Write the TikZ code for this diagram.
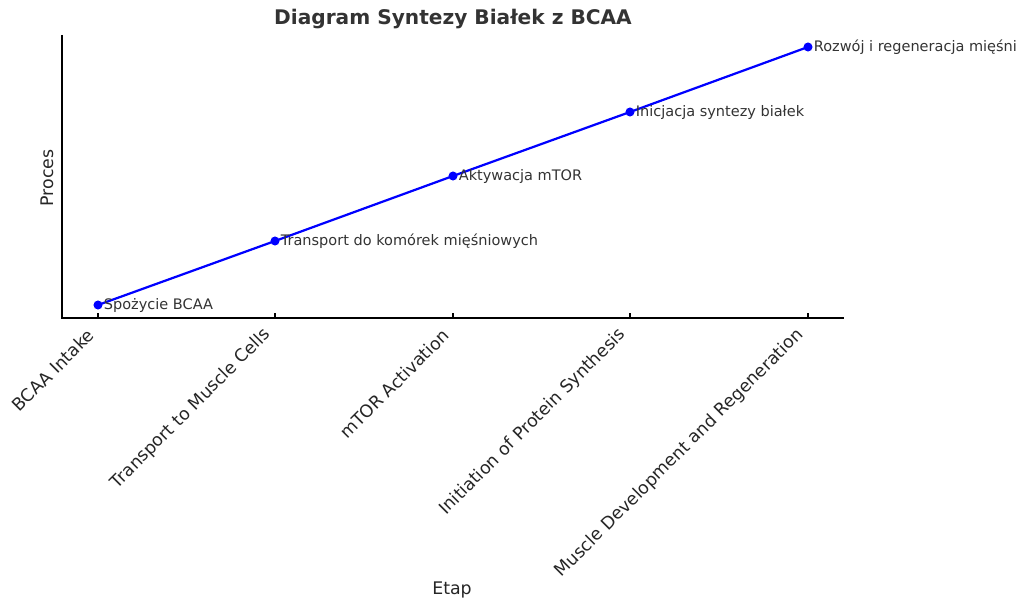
\documentclass[tikz,border=0pt]{standalone}
\usepackage{fontspec}
\setmainfont{DejaVu Sans}
\usepackage{xcolor}
\usetikzlibrary{positioning}

\definecolor{txtgray}{HTML}{333333}
\definecolor{lineblue}{HTML}{0000FF}

\begin{document}
\begin{tikzpicture}[
    x=0.72pt, y=-0.72pt,
    spine/.style={line width=0.8pt, black},
    tickmark/.style={line width=0.8pt, black},
    ticklabel/.style={rotate=45, anchor=east, inner sep=0pt, font=\fontsize{12.5}{14}\selectfont, text=black!85},
    dot/.style={circle, fill=lineblue, inner sep=0pt, minimum size=6.5pt},
    note/.style={anchor=west, inner sep=0pt, font=\fontsize{10.45}{12}\selectfont, text=txtgray},
    curve/.style={line width=1.6pt, lineblue}
  ]
  \useasboundingbox (0,0) rectangle (1024,609);

  % Title
  \node[font=\bfseries\fontsize{14.5}{16}\selectfont, text=txtgray] (title) at (453,19) {Diagram Syntezy Białek z BCAA};

  % Axes
  \coordinate (origin) at (62,318);
  \coordinate (ytop) at (62,35);
  \coordinate (xend) at (844,318);
  \draw[spine] (ytop) -- (origin) -- (xend);

  % Data points
  \coordinate (intake) at (98,305);
  \coordinate (transport) at (275,241);
  \coordinate (mtor) at (453,176);
  \coordinate (initiation) at (630,112);
  \coordinate (growth) at (808,47);

  % Ticks
  \foreach \tx in {98,275,453,630,808}
    \draw[tickmark] (\tx,318) -- (\tx,313);

  % Tick labels
  \node[ticklabel] (lab1) at (91,332) {BCAA Intake};
  \node[ticklabel] (lab2) at (268,332) {Transport to Muscle Cells};
  \node[ticklabel] (lab3) at (446,332) {mTOR Activation};
  \node[ticklabel] (lab4) at (623,332) {Initiation of Protein Synthesis};
  \node[ticklabel] (lab5) at (801,332) {Muscle Development and Regeneration};

  % Axis labels
  \node[font=\fontsize{12.5}{14}\selectfont, text=black!85] (xlabel) at (452,590) {Etap};
  \node[font=\fontsize{12.5}{14}\selectfont, text=black!85, rotate=90] (ylabel) at (47,178) {Proces};

  % Line and markers
  \draw[curve] (intake) -- (transport) -- (mtor) -- (initiation) -- (growth);
  \foreach \p in {intake,transport,mtor,initiation,growth}
    \node[dot] at (\p) {};

  % Annotations
  \node[note] (n1) at ([xshift=4]intake) {Spożycie BCAA};
  \node[note] (n2) at ([xshift=4]transport) {Transport do komórek mięśniowych};
  \node[note] (n3) at ([xshift=4]mtor) {Aktywacja mTOR};
  \node[note] (n4) at ([xshift=4]initiation) {Inicjacja syntezy białek};
  \node[note] (n5) at ([xshift=4]growth) {Rozwój i regeneracja mięśni};
\end{tikzpicture}
\end{document}
